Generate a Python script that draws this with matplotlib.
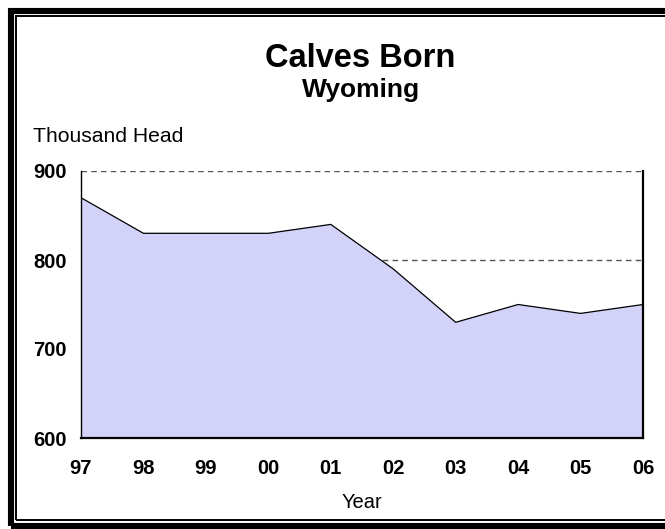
import matplotlib
matplotlib.use('Agg')
import matplotlib.pyplot as plt
from matplotlib.patches import Rectangle

plt.rcParams['font.family'] = ['Liberation Sans', 'DejaVu Sans']

# data
years = ['97', '98', '99', '00', '01', '02', '03', '04', '05', '06']
calves = [870, 830, 830, 830, 840, 790, 730, 750, 740, 750]
yticks = [600, 700, 800, 900]

W, H = 665, 529
fig = plt.figure(figsize=(W / 100, H / 100), dpi=100)
fig.patch.set_facecolor('white')

# double frame around the whole chart
fig.add_artist(Rectangle((10.5 / W, 1 - 526 / H), (672 - 10.5) / W, (526 - 10.5) / H,
                         transform=fig.transFigure, fill=False, edgecolor='black',
                         linewidth=4.4, clip_on=False))
fig.add_artist(Rectangle((16 / W, 1 - 519.5 / H), (670 - 16) / W, (519.5 - 16) / H,
                         transform=fig.transFigure, fill=False, edgecolor='black',
                         linewidth=1.4, clip_on=False))

ax = fig.add_axes([81 / W, 1 - 438 / H, (643 - 81) / W, (438 - 171) / H])
x = list(range(len(years)))

ax.set_axisbelow(True)
ax.yaxis.grid(True, linestyle=(0, (4, 3)), color='#555555', linewidth=1.0)
ax.fill_between(x, 600, calves, facecolor='#d3d3fa', edgecolor='none', zorder=2)
ax.plot(x, calves, color='black', linewidth=0.9, zorder=3)

ax.set_xlim(0, len(years) - 1)
ax.set_ylim(600, 900)
ax.set_xticks(x)
ax.set_xticklabels(years, fontsize=14.5, fontweight='bold')
ax.set_yticks(yticks)
ax.set_yticklabels([str(v) for v in yticks], fontsize=14.5, fontweight='bold', ha='left')
ax.tick_params(axis='both', length=0)
ax.tick_params(axis='x', pad=15)
ax.tick_params(axis='y', pad=34.5)

ax.spines['top'].set_visible(False)
ax.spines['left'].set_linewidth(1.0)
ax.spines['right'].set_linewidth(1.6)
ax.spines['bottom'].set_linewidth(1.6)

ax.set_xlabel('Year', fontsize=14.5, labelpad=11)

fig.text(360 / W, 1 - 67 / H, 'Calves Born', fontsize=23.5, fontweight='bold',
         ha='center', va='baseline')
fig.text(361 / W, 1 - 97 / H, 'Wyoming', fontsize=19, fontweight='bold',
         ha='center', va='baseline')
fig.text(33 / W, 1 - 137 / H, 'Thousand Head', fontsize=15.2, ha='left', va='center')

fig.savefig('out.png', dpi=100)
